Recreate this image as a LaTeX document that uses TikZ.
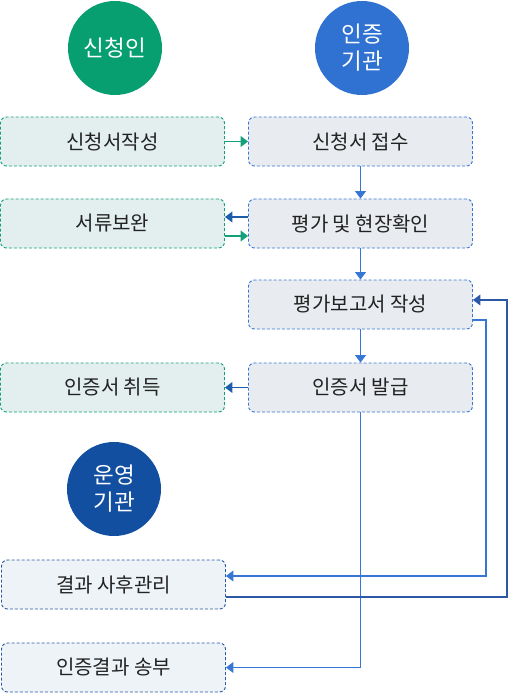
\documentclass[tikz,border=0pt]{standalone}
\usepackage{fontspec}
\setmainfont{Noto Sans CJK KR}
\usetikzlibrary{arrows.meta}
\definecolor{gcirc}{HTML}{079F70}
\definecolor{bcirc}{HTML}{2F72D2}
\definecolor{ocirc}{HTML}{134FA0}
\definecolor{gline}{HTML}{14A07A}
\definecolor{gfill}{HTML}{E2EFEE}
\definecolor{bline}{HTML}{3677D6}
\definecolor{bfill}{HTML}{E8EBEF}
\definecolor{oline}{HTML}{2C58A5}
\definecolor{ofill}{HTML}{EDF3F7}
\definecolor{dline}{HTML}{1E5DAE}
\definecolor{txt}{HTML}{222222}
\begin{document}
\begin{tikzpicture}[x=1pt,y=-1pt,
  actor/.style={circle, minimum size=94pt, inner sep=0pt, text=white, align=center, font=\fontsize{22.5}{27}\selectfont},
  box/.style={rounded corners=6pt, dash pattern=on 3pt off 2pt, line width=0.9pt, minimum width=224pt, minimum height=49pt, inner sep=0pt, text=txt, font=\fontsize{20}{24}\selectfont},
  gbox/.style={box, draw=gline, fill=gfill},
  bbox/.style={box, draw=bline, fill=bfill},
  obox/.style={box, draw=oline, fill=ofill},
  link/.style={line width=1.1pt, -{Triangle[length=7.5pt,width=11pt]}}]
\useasboundingbox (0,0) rectangle (508,693);
\node[actor, fill=gcirc] (applicant) at (115,48){신청인};
\node[actor, fill=bcirc] (certorg) at (362,48){인증\\기관};
\node[actor, fill=ocirc] (operorg) at (114,489){운영\\기관};
\node[gbox] (write) at (112.5,141.5){신청서작성};
\node[bbox] (receive) at (360.5,141.5){신청서 접수};
\node[gbox] (supplement) at (112.5,223.5){서류보완};
\node[bbox] (review) at (360.5,223.5){평가 및 현장확인};
\node[bbox] (report) at (360.5,304.5){평가보고서 작성};
\node[gbox] (acquire) at (112.5,387.5){인증서 취득};
\node[bbox] (issue) at (360.5,387.5){인증서 발급};
\node[obox] (followup) at (113.5,584.5){결과 사후관리};
\node[obox] (notify) at (113.5,667.5){인증결과 송부};
\draw[link, gline] (write) -- (receive);
\draw[link, bline] (receive) -- (review);
\draw[link, dline] ([yshift=6.5pt]review.west) -- ([yshift=6.5pt]supplement.east);
\draw[link, gline] ([yshift=-12.5pt]supplement.east) -- ([yshift=-12.5pt]review.west);
\draw[link, bline] (review) -- (report);
\draw[link, bline] (report) -- (issue);
\draw[link, dline] (issue) -- (acquire);
\draw[link, bline] (issue.south) |- (notify.east);
\draw[link, bline] ([yshift=-15.5pt]report.east) -- ++(13,0) |- ([yshift=8.5pt]followup.east);
\draw[link, oline] ([yshift=-12.5pt]followup.east) -- ++(281,0) |- ([yshift=4.5pt]report.east);
\end{tikzpicture}
\end{document}
